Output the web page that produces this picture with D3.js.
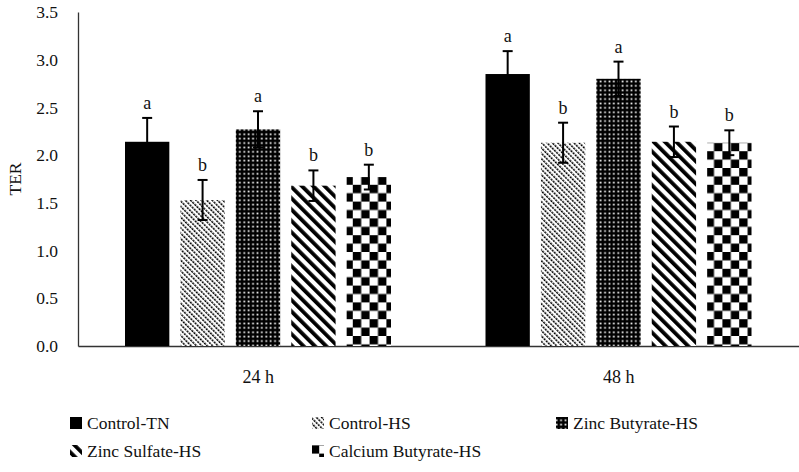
<!DOCTYPE html>
<html>
<head>
<meta charset="utf-8">
<script src="https://cdn.jsdelivr.net/npm/d3@7"></script>
<style>
  html, body { margin: 0; padding: 0; background: #fff; }
  svg { display: block; }
  svg text { font-family: "Liberation Serif", "Times New Roman", Times, Tinos, "DejaVu Serif", serif; }
</style>
</head>
<body>
<svg id="chart" width="799" height="472"></svg>
<script>
// ---- data ----
const groups = ["24 h", "48 h"];
const series = ["Control-TN", "Control-HS", "Zinc Butyrate-HS", "Zinc Sulfate-HS", "Calcium Butyrate-HS"];
const values24 = [2.14, 1.53, 2.27, 1.68, 1.77];
const values48 = [2.85, 2.13, 2.80, 2.14, 2.13];
const errors24 = [0.25, 0.21, 0.19, 0.16, 0.13];
const errors48 = [0.24, 0.21, 0.18, 0.16, 0.13];
const letters24 = ["a", "b", "a", "b", "b"];
const letters48 = ["a", "b", "a", "b", "b"];
const yTicks = [0, 0.5, 1.0, 1.5, 2.0, 2.5, 3.0, 3.5];

const table = [];
groups.forEach((g, gi) => {
  const vals = gi === 0 ? values24 : values48;
  const errs = gi === 0 ? errors24 : errors48;
  const lets = gi === 0 ? letters24 : letters48;
  series.forEach((s, si) => table.push({ group: g, series: s, si, value: vals[si], err: errs[si], letter: lets[si] }));
});

const FONT = '"Liberation Serif", "Times New Roman", Times, Tinos, "DejaVu Serif", serif';
const svg = d3.select("#chart");
const mLeft = 78, mRight = 799, mTop = 12, mBottom = 346;

// ---- patterns ----
const defs = svg.append("defs");
// Control-HS: fine dashed downward diagonals
const p1 = defs.append("pattern").attr("id", "p1").attr("patternUnits", "userSpaceOnUse")
  .attr("width", 3.8).attr("height", 3).attr("patternTransform", "rotate(-45)");
p1.append("rect").attr("width", 3.8).attr("height", 3).attr("fill", "#fff");
p1.append("rect").attr("x", 0).attr("y", 0).attr("width", 1.5).attr("height", 2.2).attr("fill", "#000");
// Zinc Butyrate-HS: black with small white squares
const p2 = defs.append("pattern").attr("id", "p2").attr("patternUnits", "userSpaceOnUse")
  .attr("width", 4.4).attr("height", 4.4);
p2.append("rect").attr("width", 4.4).attr("height", 4.4).attr("fill", "#000");
p2.append("rect").attr("x", 1.4).attr("y", 1.4).attr("width", 1.7).attr("height", 1.7).attr("fill", "#fff");
// Zinc Sulfate-HS: wide downward diagonals
const p3 = defs.append("pattern").attr("id", "p3").attr("patternUnits", "userSpaceOnUse")
  .attr("width", 8).attr("height", 8).attr("patternTransform", "rotate(-45)");
p3.append("rect").attr("width", 8).attr("height", 8).attr("fill", "#fff");
p3.append("rect").attr("width", 3.8).attr("height", 8).attr("fill", "#000");
// Calcium Butyrate-HS: large checkerboard
const cs = 8.4;
const p4 = defs.append("pattern").attr("id", "p4").attr("patternUnits", "userSpaceOnUse")
  .attr("width", cs * 2).attr("height", cs * 2);
p4.append("rect").attr("width", cs * 2).attr("height", cs * 2).attr("fill", "#fff");
p4.append("rect").attr("x", 0).attr("y", 0).attr("width", cs).attr("height", cs).attr("fill", "#000");
p4.append("rect").attr("x", cs).attr("y", cs).attr("width", cs).attr("height", cs).attr("fill", "#000");

const fills = ["#000", "url(#p1)", "url(#p2)", "url(#p3)", "url(#p4)"];

// ---- scales ----
const y = d3.scaleLinear().domain([0, 3.5]).range([mBottom, mTop]);
const x0 = d3.scaleBand().domain(groups).range([mLeft, mRight]);
const x1 = d3.scaleBand().domain(series).range([47, 313]).paddingInner(0.2);

// ---- y axis ----
const yAxis = d3.axisLeft(y).tickValues(yTicks).tickFormat(d3.format(".1f")).tickSize(0).tickPadding(20);
const gy = svg.append("g").attr("transform", `translate(${mLeft},0)`).call(yAxis)
  .attr("font-family", FONT).attr("font-size", 17.5);
gy.select(".domain").attr("stroke", "#333").attr("stroke-width", 1.3);
gy.selectAll("text").attr("fill", "#111");

// ---- x axis ----
const xAxis = d3.axisBottom(x0).tickSize(0).tickPadding(24);
const gx = svg.append("g").attr("transform", `translate(0,${mBottom})`).call(xAxis)
  .attr("font-family", FONT).attr("font-size", 18);
gx.select(".domain").attr("stroke", "#333").attr("stroke-width", 1.3);
gx.selectAll("text").attr("fill", "#111");

// y title
svg.append("text").attr("transform", `translate(21,${(mTop + mBottom) / 2}) rotate(-90)`)
  .attr("text-anchor", "middle").attr("font-family", FONT).attr("font-size", 17.5).attr("fill", "#111").text("TER");

// ---- bars ----
const gb = svg.append("g");
gb.selectAll("rect").data(table).join("rect")
  .attr("x", d => x0(d.group) + x1(d.series))
  .attr("y", d => y(d.value))
  .attr("width", x1.bandwidth())
  .attr("height", d => y(0) - y(d.value))
  .attr("fill", d => fills[d.si]);

// ---- error bars ----
const ge = svg.append("g").attr("stroke", "#000").attr("stroke-width", 2);
table.forEach(d => {
  const cx = x0(d.group) + x1(d.series) + x1.bandwidth() / 2;
  ge.append("line").attr("x1", cx).attr("x2", cx).attr("y1", y(d.value - d.err)).attr("y2", y(d.value + d.err));
  ge.append("line").attr("x1", cx - 5).attr("x2", cx + 5).attr("y1", y(d.value + d.err)).attr("y2", y(d.value + d.err));
  ge.append("line").attr("x1", cx - 5).attr("x2", cx + 5).attr("y1", y(d.value - d.err)).attr("y2", y(d.value - d.err));
});

// ---- letters ----
svg.append("g").selectAll("text").data(table).join("text")
  .attr("x", d => x0(d.group) + x1(d.series) + x1.bandwidth() / 2)
  .attr("y", d => y(d.value + d.err) - 9)
  .attr("text-anchor", "middle").attr("font-family", FONT).attr("font-size", 18).attr("fill", "#111")
  .text(d => d.letter);

// ---- legend ----
const legendPos = [[70, 423], [312, 423], [556, 423], [70, 451], [312, 451]];
const lg = svg.append("g");
series.forEach((s, i) => {
  const [lx, ly] = legendPos[i];
  lg.append("rect").attr("x", lx).attr("y", ly - 6).attr("width", 12).attr("height", 12).attr("fill", fills[i]);
  lg.append("text").attr("x", lx + 17).attr("y", ly + 6).attr("font-family", FONT).attr("font-size", 17.5).attr("fill", "#111").text(s);
});
</script>
</body>
</html>
